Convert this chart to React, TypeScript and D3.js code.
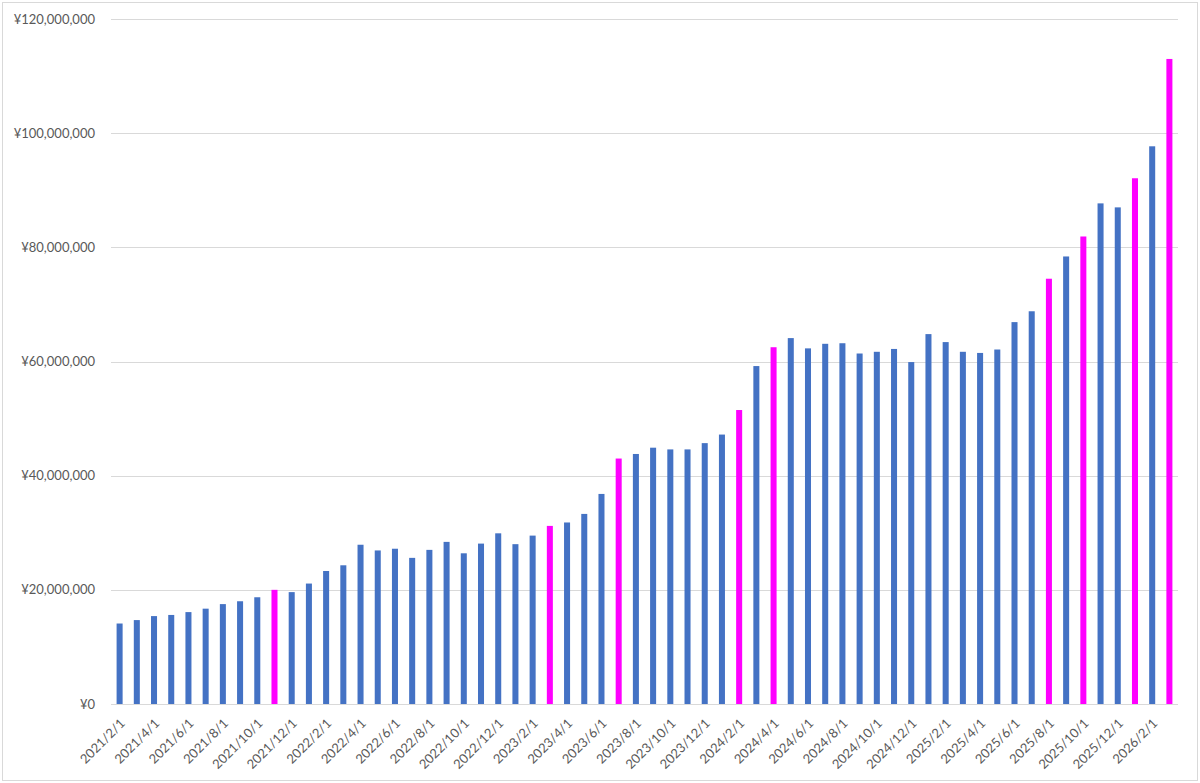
import React, { useRef, useEffect } from 'react';
import * as d3 from 'd3';

// monthly totals, 2021/2 .. 2026/3 (yen)
const months = d3.range(62).map(i => {
  const m = 1 + i; // months since 2021/1
  const y = 2021 + Math.floor(m / 12);
  return `${y}/${(m % 12) + 1}/1`;
});

const values = [
  14.1, 14.7, 15.4, 15.6, 16.1, 16.7, 17.5, 18.0, 18.7, 20.0,
  19.6, 21.1, 23.3, 24.3, 27.9, 26.9, 27.2, 25.6, 27.0, 28.4,
  26.4, 28.1, 29.9, 28.0, 29.5, 31.2, 31.8, 33.3, 36.8, 43.0,
  43.8, 44.9, 44.6, 44.6, 45.7, 47.2, 51.5, 59.2, 62.5, 64.1,
  62.3, 63.1, 63.2, 61.4, 61.7, 62.2, 59.9, 64.8, 63.4, 61.7,
  61.5, 62.1, 66.9, 68.8, 74.5, 78.4, 81.9, 87.7, 87.0, 92.1,
  97.7, 113.0,
].map(v => v * 1e6);

// months drawn in magenta
const highlighted = [
  '2021/11/1', '2023/3/1', '2023/7/1', '2024/2/1', '2024/4/1',
  '2025/8/1', '2025/10/1', '2026/1/1', '2026/3/1',
];

const yTicks = [0, 20e6, 40e6, 60e6, 80e6, 100e6, 120e6];

const BLUE = '#4472C4';
const MAGENTA = '#FF00FF';
const FONT = 'Lato, "Open Sans", sans-serif';

function MonthlyBars() {
  const svgRef = useRef(null);

  useEffect(() => {
    const svg = d3.select(svgRef.current);
    svg.selectAll('*').remove();

    const width = 1200;
    const height = 783;
    const margin = { top: 19, right: 22, bottom: 79, left: 111 };

    svg.append('rect')
      .attr('x', 2.5).attr('y', 2.5)
      .attr('width', width - 5).attr('height', height - 5)
      .attr('fill', '#fff')
      .attr('stroke', '#D9D9D9');

    const x = d3.scaleBand()
      .domain(months)
      .range([margin.left, width - margin.right])
      .paddingInner(0.65)
      .paddingOuter(0.325);

    const y = d3.scaleLinear()
      .domain([0, 120e6])
      .range([height - margin.bottom, margin.top]);

    // gridlines
    svg.append('g')
      .selectAll('line')
      .data(yTicks)
      .enter().append('line')
      .attr('x1', margin.left)
      .attr('x2', width - margin.right)
      .attr('y1', d => Math.round(y(d)) + 0.5)
      .attr('y2', d => Math.round(y(d)) + 0.5)
      .attr('stroke', '#D9D9D9')
      .attr('stroke-width', 1);

    const fmt = d3.format(',');
    svg.append('g')
      .attr('font-family', FONT)
      .attr('font-size', 13)
      .attr('fill', '#595959')
      .attr('text-anchor', 'end')
      .selectAll('text')
      .data(yTicks)
      .enter().append('text')
      .attr('x', 95)
      .attr('y', d => y(d))
      .attr('dy', '0.35em')
      .text(d => '¥' + fmt(d));

    // bars
    svg.append('g')
      .selectAll('rect')
      .data(values)
      .enter().append('rect')
      .attr('x', (d, i) => x(months[i]))
      .attr('width', x.bandwidth())
      .attr('y', d => y(d))
      .attr('height', d => y(0) - y(d))
      .attr('fill', (d, i) => highlighted.includes(months[i]) ? MAGENTA : BLUE);

    // x labels, every other month
    const cx = m => x(m) + x.bandwidth() / 2;
    svg.append('g')
      .attr('font-family', FONT)
      .attr('font-size', 13)
      .attr('fill', '#595959')
      .attr('text-anchor', 'end')
      .selectAll('text')
      .data(months.filter((m, i) => i % 2 === 0))
      .enter().append('text')
      .attr('transform', m => `translate(${cx(m) + 3},${height - margin.bottom + 17}) rotate(-45)`)
      .attr('dy', '0.35em')
      .text(m => m);
  }, []);

  return <svg ref={svgRef} width={1200} height={783} style={{ position: 'absolute', left: 0, top: 0 }} />;
}

export default function App() {
  return <MonthlyBars />;
}
